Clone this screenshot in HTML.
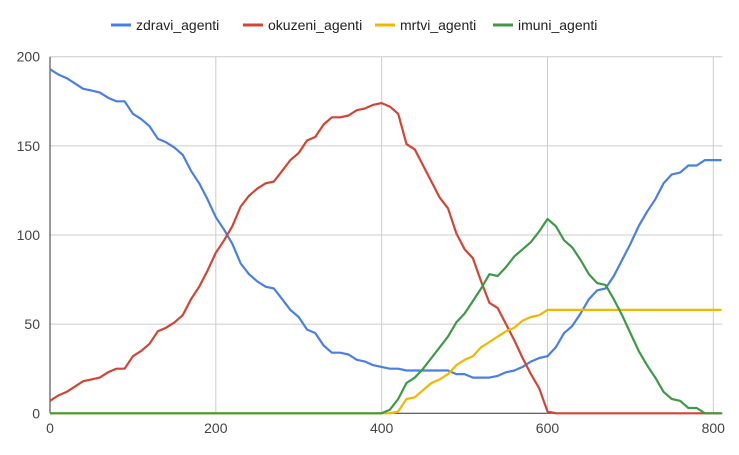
<!DOCTYPE html>
<html><head><meta charset="utf-8"><style>
body{margin:0;background:#fff;font-family:"Liberation Sans",Arial,sans-serif}
svg{display:block}
</style></head><body>
<svg id="chart" width="739" height="455" xmlns="http://www.w3.org/2000/svg">
<g id="grid"></g>
<g id="axes"></g>
<g id="series"></g>
<g id="legend"></g>
</svg>
<script>
const xs = [];
for (let i = 0; i <= 81; i++) xs.push(i * 10);
const seriesNames = ["zdravi_agenti","okuzeni_agenti","mrtvi_agenti","imuni_agenti"];
const seriesColors = ["#4a7fe3","#d24535","#f2b800","#3e9a46"];
const zdravi = [193,190,188,185,182,181,180,177,175,175,168,165,161,154,152,149,145,136,129,120,110,103,95,84,78,74,71,70,64,58,54,47,45,38,34,34,33,30,29,27,26,25,25,24,24,24,24,24,24,22,22,20,20,20,21,23,24,26,29,31,32,37,45,49,56,64,69,70,77,86,95,105,113,120,129,134,135,139,139,142,142,142];
const okuzeni = [7,10,12,15,18,19,20,23,25,25,32,35,39,46,48,51,55,64,71,80,90,97,105,116,122,126,129,130,136,142,146,153,155,162,166,166,167,170,171,173,174,172,168,151,148,139,130,121,115,101,92,87,74,62,59,50,41,31,22,14,1,0,0,0,0,0,0,0,0,0,0,0,0,0,0,0,0,0,0,0,0,0];
const mrtvi = [0,0,0,0,0,0,0,0,0,0,0,0,0,0,0,0,0,0,0,0,0,0,0,0,0,0,0,0,0,0,0,0,0,0,0,0,0,0,0,0,0,0,1,8,9,13,17,19,22,27,30,32,37,40,43,46,48,52,54,55,58,58,58,58,58,58,58,58,58,58,58,58,58,58,58,58,58,58,58,58,58,58];
const imuni = [0,0,0,0,0,0,0,0,0,0,0,0,0,0,0,0,0,0,0,0,0,0,0,0,0,0,0,0,0,0,0,0,0,0,0,0,0,0,0,0,0,2,8,17,20,25,31,37,43,51,56,63,70,78,77,82,88,92,96,102,109,105,97,93,86,78,73,72,64,55,45,35,27,20,12,8,7,3,3,0,0,0];
const xTicks = [0,200,400,600,800];
const yTicks = [0,50,100,150,200];

const NS = "http://www.w3.org/2000/svg";
const X0 = 50, XS = (713.3 - 50) / 800, XMAX = 811;
const Y0 = 413.3, YS = (413.3 - 56.7) / 200;
const sx = v => X0 + v * XS;
const sy = v => Y0 - v * YS;
function mk(tag, parent, attrs) { const e = document.createElementNS(NS, tag); for (const k in attrs) e.setAttribute(k, attrs[k]); parent.appendChild(e); return e; }
const grid = document.getElementById('grid'), axes = document.getElementById('axes'), ser = document.getElementById('series'), leg = document.getElementById('legend');

yTicks.forEach(t => {
  if (t > 0) {
    const l = mk('line', grid, {x1: X0, x2: sx(XMAX), y1: sy(t), y2: sy(t), stroke: '#cccccc', 'stroke-width': 1});
    
    
  }
  const tx = mk('text', axes, {x: 40, y: sy(t) + 5, 'text-anchor': 'end', 'font-size': 14, fill: '#444'});
  tx.textContent = t;
  
  
});
xTicks.forEach(t => {
  if (t > 0) {
    const l = mk('line', grid, {x1: sx(t), x2: sx(t), y1: sy(200), y2: Y0, stroke: '#cccccc', 'stroke-width': 1});
    
    
  }
  const tx = mk('text', axes, {x: sx(t), y: 433, 'text-anchor': 'middle', 'font-size': 14, fill: '#444'});
  tx.textContent = t;
  
  
});
const ya = mk('line', axes, {x1: X0, x2: X0, y1: sy(200), y2: Y0, stroke: '#333', 'stroke-width': 1});



const data = [zdravi, okuzeni, mrtvi, imuni];
data.forEach((vals, si) => {
  const pts = vals.map((v, i) => sx(xs[i]).toFixed(1) + ',' + sy(v).toFixed(1)).join(' ');
  const p = mk('polyline', ser, {points: pts, fill: 'none', stroke: seriesColors[si], 'stroke-width': 2.2, 'stroke-linejoin': 'round'});
  
  
});
const xa = mk('line', axes, {x1: X0, x2: sx(XMAX), y1: Y0, y2: Y0, stroke: '#333', 'stroke-width': 1});



const legX = [111, 243, 375, 493];
seriesNames.forEach((n, i) => {
  const g = mk('g', leg, {});
  
  
  mk('line', g, {x1: legX[i], x2: legX[i] + 20, y1: 25, y2: 25, stroke: seriesColors[i], 'stroke-width': 3});
  const t = mk('text', g, {x: legX[i] + 25, y: 30, 'font-size': 14, fill: '#222'});
  t.textContent = n;
});
</script>
</body></html>
